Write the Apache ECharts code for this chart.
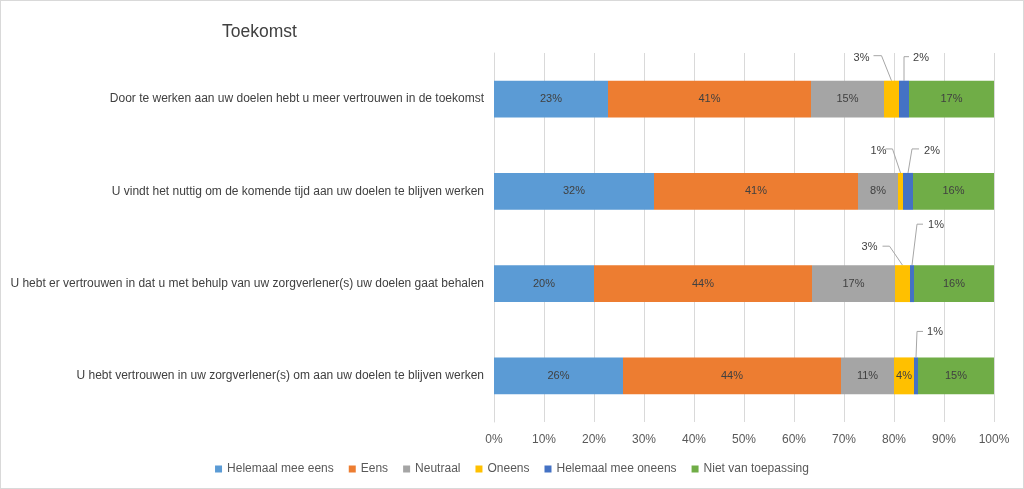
<!DOCTYPE html>
<html><head><meta charset="utf-8">
<script src="https://cdn.jsdelivr.net/npm/echarts@6/dist/echarts.min.js"></script>
<style>html,body{margin:0;padding:0;background:#fff}#c{width:1024px;height:489px;box-sizing:border-box;border:1px solid #d9d9d9}</style>
</head><body><div id="c"></div>
<script>
var categories = [
  'Door te werken aan uw doelen hebt u meer vertrouwen in de toekomst',
  'U vindt het nuttig om de komende tijd aan uw doelen te blijven werken',
  'U hebt er vertrouwen in dat u met behulp van uw zorgverlener(s) uw doelen gaat behalen',
  'U hebt vertrouwen in uw zorgverlener(s) om aan uw doelen te blijven werken'
];
var seriesNames = ['Helemaal mee eens','Eens','Neutraal','Oneens','Helemaal mee oneens','Niet van toepassing'];
var helemaalMeeEens   = [22.8, 32.0, 20.0, 25.8];
var eens              = [40.6, 40.8, 43.6, 43.6];
var neutraal          = [14.6, 8.0, 16.6, 10.6];
var oneens            = [3.0, 1.0, 3.0, 4.0];
var helemaalMeeOneens = [2.0, 2.0, 0.8, 0.8];
var nietVanToepassing = [17.0, 16.2, 16.0, 15.2];
var xTicks = [0,10,20,30,40,50,60,70,80,90,100];

var colors = ['#5B9BD5','#ED7D31','#A5A5A5','#FFC000','#4472C4','#70AD47'];
var allValues = [helemaalMeeEens, eens, neutraal, oneens, helemaalMeeOneens, nietVanToepassing];

// outside label placement (offsets from the segment's top centre)
var outside = {
  '3-0': {lx:-30, ly:-23, ex:-10, ey:-25, tx:-18},
  '3-1': {lx:-22, ly:-22, ex:-8,  ey:-24, tx:-15},
  '3-2': {lx:-33, ly:-18, ex:-13, ey:-19, tx:-20},
  '4-0': {lx:17,  ly:-23, ex:0,   ey:-24, tx:5},
  '4-1': {lx:24,  ly:-22, ex:4,   ey:-24, tx:11},
  '4-2': {lx:24,  ly:-40, ex:5,   ey:-41, tx:11},
  '4-3': {lx:19,  ly:-25, ex:1,   ey:-26, tx:7}
};

var series = allValues.map(function(vals, si){
  return {
    name: seriesNames[si],
    type: 'bar',
    stack: 'total',
    barWidth: '40%',
    itemStyle: {color: colors[si]},
    label: {show: true, position: 'inside', color: '#404040', fontSize: 11,
      fontFamily: 'Liberation Sans',
      formatter: function(p){ return Math.round(p.value) + '%'; }},
    data: vals.map(function(v, di){
      if (outside[si + '-' + di]) return {value: v, label: {show: false}};
      return {value: v};
    })
  };
});

var chart = echarts.init(document.getElementById('c'));
chart.setOption({
  animation: false,
  title: {text: 'Toekomst', left: 216, top: 17,
    textStyle: {fontSize: 17.5, fontWeight: 'normal', color: '#404040', fontFamily: 'Liberation Sans'}},
  legend: {bottom: 8, left: 'center', itemWidth: 7, itemHeight: 7, itemGap: 15,
    icon: 'rect', textStyle: {fontSize: 12, color: '#595959', fontFamily: 'Liberation Sans'},
    data: seriesNames},
  grid: {left: 493, right: 29, top: 52, bottom: 66, containLabel: false},
  xAxis: {type: 'value', min: 0, max: 100, interval: 10,
    axisLabel: {formatter: '{value}%', color: '#595959', fontSize: 12, margin: 12, fontFamily: 'Liberation Sans'},
    splitLine: {lineStyle: {color: '#d9d9d9'}},
    axisLine: {show: false}, axisTick: {show: false}},
  yAxis: {type: 'category', inverse: true, data: categories,
    axisLine: {show: true, lineStyle: {color: '#d9d9d9'}}, axisTick: {show: false},
    axisLabel: {color: '#404040', fontSize: 12, margin: 10, fontFamily: 'Liberation Sans'}},
  series: series
});

// leader lines + outside labels for the small segments
var band = Math.abs(chart.convertToPixel({yAxisIndex: 0}, 1) - chart.convertToPixel({yAxisIndex: 0}, 0));
var barH = band * 0.4;
var graphics = [];
Object.keys(outside).forEach(function(key){
  var parts = key.split('-'), si = +parts[0], di = +parts[1];
  var start = 0;
  for (var k = 0; k < si; k++) start += allValues[k][di];
  var v = allValues[si][di];
  var cx = chart.convertToPixel({xAxisIndex: 0}, start + v / 2);
  var top = chart.convertToPixel({yAxisIndex: 0}, di) - barH / 2;
  var o = outside[key];
  graphics.push({type: 'polyline', silent: true,
    shape: {points: [[cx, top], [cx + o.ex, top + o.ey], [cx + o.tx, top + o.ey]]},
    style: {stroke: '#a6a6a6', lineWidth: 1, fill: null}});
  graphics.push({type: 'text', silent: true, x: cx + o.lx, y: top + o.ly,
    style: {text: Math.round(v) + '%', fill: '#404040', fontSize: 11, fontFamily: 'Liberation Sans',
      align: 'center', verticalAlign: 'middle'}});
});
chart.setOption({graphic: graphics});
</script>
</body></html>
